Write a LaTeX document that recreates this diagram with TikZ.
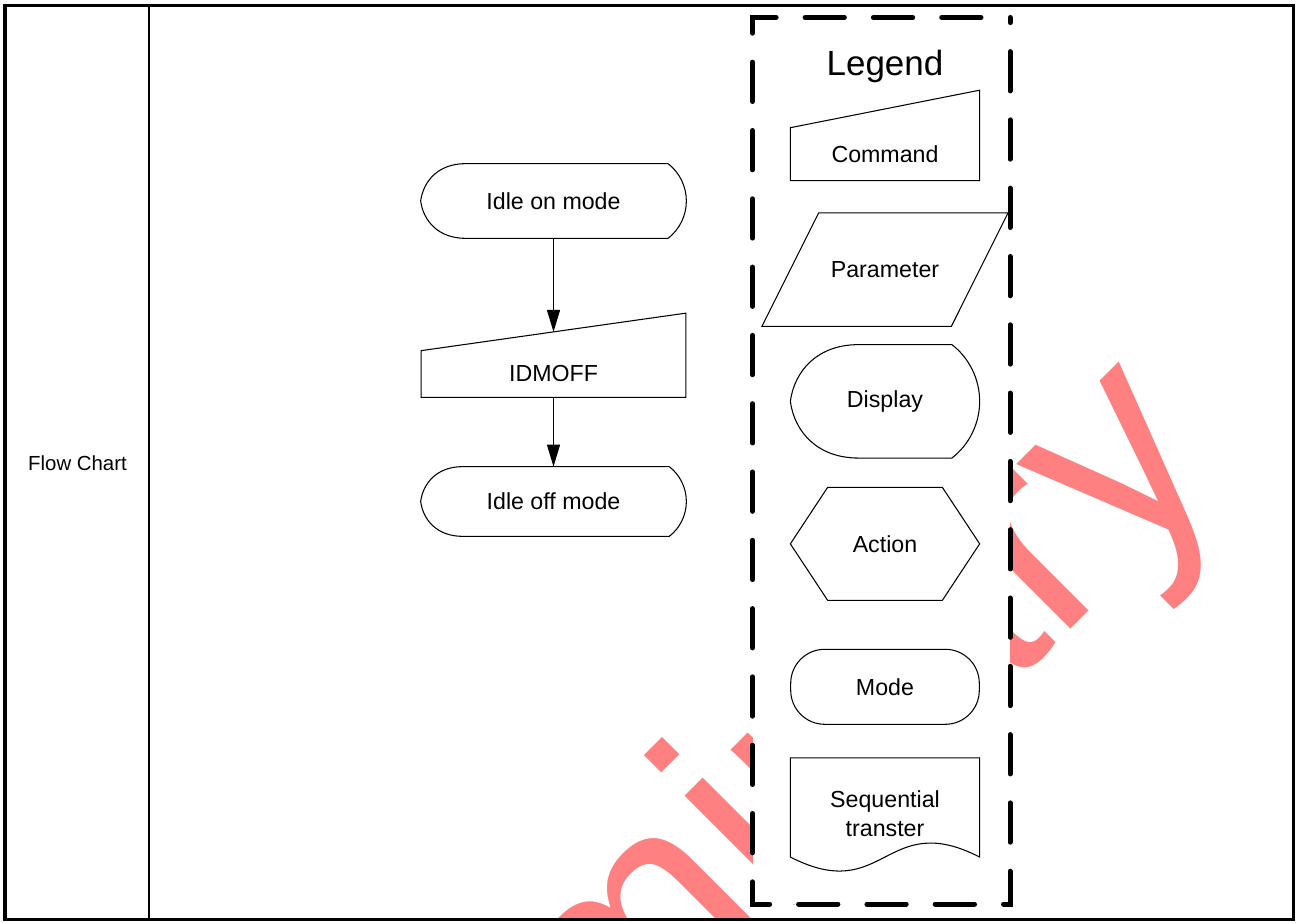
\documentclass[tikz,border=0pt]{standalone}
\usepackage{fontspec}
\setmainfont{Liberation Sans}
\usepackage{tikz}
\usetikzlibrary{arrows.meta,positioning,calc}
\usepackage{xcolor}
\definecolor{ink}{RGB}{0,0,0}
\definecolor{wmark}{RGB}{255,128,128}
\tikzset{
  shp/.style={draw=ink,line width=0.6pt},
  fbox/.style={inner sep=0pt,font=\fontsize{13.2}{16.5}\selectfont,align=center,text=ink},
  lgtitle/.style={inner sep=0pt,font=\fontsize{19.9}{24}\selectfont,text=ink},
  fclabel/.style={inner sep=0pt,font=\fontsize{11.6}{14}\selectfont,text=ink},
  wmtext/.style={inner sep=0pt,font=\fontsize{166.7}{170}\selectfont,text=wmark},
  arr/.style={-{Triangle[length=12.5pt,width=7.4pt]},line width=0.6pt,draw=ink},
  outerframe/.style={draw=ink,line width=2pt},
  lgbox/.style={draw=ink,fill=white,line width=0.1cm,line cap=round,
    dash pattern=on 0.786cm off 0.58cm,dash phase=0.786cm},
}
% outlines drawn round a named node
\newcommand{\dispoutline}[1]{%
  \draw[shp] let \p1=(#1.north west), \p2=(#1.south east),
    \n1={0.6*(\y1-\y2)}, \n2={0.245*(\y1-\y2)}, \n3={(\y1+\y2)/2}, \n4={\y1-\y2} in
    (\x1+\n1,\y1) -- (\x2-\n2,\y1)
    .. controls (\x2-0.37*\n2,\y1-0.118*\n4) and (\x2,\n3+0.194*\n4) .. (\x2,\n3)
    .. controls (\x2,\n3-0.194*\n4) and (\x2-0.37*\n2,\y2+0.118*\n4) .. (\x2-\n2,\y2)
    -- (\x1+\n1,\y2)
    .. controls (\x1+0.4*\n1,\y2) and (\x1+0.06*\n1,\n3-0.27*\n4) .. (\x1,\n3)
    .. controls (\x1+0.06*\n1,\n3+0.27*\n4) and (\x1+0.4*\n1,\y1) .. cycle;}
\newcommand{\cmdoutline}[1]{%
  \draw[shp] (#1.north west) -- ([yshift=0.75cm]#1.north east) -- (#1.south east)
    -- (#1.south west) -- cycle;
  \coordinate (#1-top) at ($(#1.north west)!0.5!([yshift=0.75cm]#1.north east)$);}
\newcommand{\paramoutline}[1]{%
  \draw[shp] ([xshift=1.134cm]#1.north west) -- (#1.north east)
    -- ([xshift=-1.134cm]#1.south east) -- (#1.south west) -- cycle;}
\newcommand{\actoutline}[1]{%
  \draw[shp] ([xshift=0.746cm]#1.north west) -- ([xshift=-0.746cm]#1.north east) -- (#1.east)
    -- ([xshift=-0.746cm]#1.south east) -- ([xshift=0.746cm]#1.south west) -- (#1.west) -- cycle;}
\newcommand{\docoutline}[1]{%
  \draw[shp] ([yshift=0.24cm]#1.south west) -- (#1.north west) -- (#1.north east)
    -- ([yshift=0.24cm]#1.south east)
    .. controls ($(#1.south)+(0,1.21)$) and ($(#1.south)+(0,-0.73)$) .. ([yshift=0.24cm]#1.south west);}

\begin{document}
\begin{tikzpicture}
\useasboundingbox (0,0) rectangle (25.92,18.44);
\begin{scope}
  \clip (0.10,0.05) rectangle (25.87,18.33);
  \node[wmtext,rotate=45,anchor=base west] (wm) at (3.86,-11.70) {Preliminary};
\end{scope}
\draw[lgbox] (20.20,18.09) -- (15.05,18.09) -- (15.05,0.36) -- (20.20,0.36) -- cycle;
\draw[outerframe] (0.10,0.05) rectangle (25.87,18.33);
\draw[ink,line width=1.3pt] (2.976,0.05) -- (2.976,18.33);
\node[fclabel] (fclabel) at (1.55,9.18) {Flow Chart};

\node[fbox,minimum width=5.30cm,minimum height=1.48cm] (idleon) at (11.07,14.42) {Idle on mode};
\dispoutline{idleon}
\node[fbox,minimum width=5.28cm,minimum height=0.92cm] (idmoff) at (11.07,10.96) {IDMOFF};
\cmdoutline{idmoff}
\node[fbox,minimum width=5.30cm,minimum height=1.38cm] (idleoff) at (11.07,8.41) {Idle off mode};
\dispoutline{idleoff}
\draw[arr] (idleon.south) -- (idmoff-top);
\draw[arr] (idmoff.south) -- (idleoff.north);

\node[lgtitle,anchor=base] (lgtitle) at (17.70,16.93) {Legend};
\node[fbox,minimum width=3.772cm,minimum height=1.046cm] (lgcmd) at (17.70,15.356) {Command};
\cmdoutline{lgcmd}
\node[fbox,minimum width=4.908cm,minimum height=2.254cm] (lgparam) at (17.70,13.047) {Parameter};
\paramoutline{lgparam}
\node[fbox,minimum width=3.772cm,minimum height=2.254cm] (lgdisp) at (17.70,10.413) {Display};
\dispoutline{lgdisp}
\node[fbox,minimum width=3.772cm,minimum height=2.246cm] (lgact) at (17.70,7.563) {Action};
\actoutline{lgact}
\node[fbox,shp,rounded corners=0.68cm,minimum width=3.772cm,minimum height=1.5cm] (lgmode) at (17.70,4.704) {Mode};
\node[fbox,minimum width=3.772cm,minimum height=2.208cm] (lgseq) at (17.70,2.17) {Sequential\\transter};
\docoutline{lgseq}
\end{tikzpicture}
\end{document}
